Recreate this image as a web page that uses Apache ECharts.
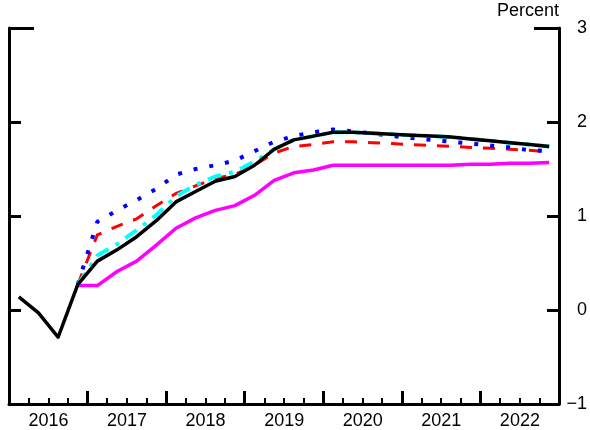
<!DOCTYPE html>
<html>
<head>
<meta charset="utf-8">
<script src="https://cdn.jsdelivr.net/npm/echarts@6/dist/echarts.min.js"></script>
<style>
html,body{margin:0;padding:0;background:#fff;}
#chart{width:590px;height:430px;}
</style>
</head>
<body>
<div id="chart"></div>
<script>
// Quarterly categories 2016Q1 - 2022Q4
const years = ['2016','2017','2018','2019','2020','2021','2022'];
const quarters = [];
years.forEach(y => { for (let q = 1; q <= 4; q++) quarters.push(y + 'Q' + q); });

const yTicks = [-1, 0, 1, 2, 3];

const blackLine = [0.14,-0.03,-0.29,0.27,0.52,0.64,0.78,0.95,1.15,1.26,1.37,1.42,1.54,1.71,1.81,1.85,1.89,1.89,1.88,1.87,1.86,1.85,1.84,1.82,1.80,1.78,1.76,1.74];
const magentaLine = [null,null,null,0.26,0.26,0.41,0.52,0.69,0.87,0.98,1.06,1.11,1.22,1.38,1.46,1.49,1.54,1.54,1.54,1.54,1.54,1.54,1.54,1.55,1.55,1.56,1.56,1.57];
const redLine = [null,null,null,0.27,0.80,0.89,0.97,1.11,1.24,1.32,1.40,1.44,1.54,1.67,1.74,1.76,1.79,1.79,1.78,1.77,1.76,1.75,1.74,1.73,1.72,1.71,1.70,1.68];
const blueLine = [null,null,null,0.27,0.94,1.06,1.17,1.29,1.44,1.50,1.54,1.59,1.69,1.79,1.85,1.89,1.92,1.90,1.88,1.85,1.83,1.81,1.79,1.77,1.75,1.73,1.70,1.69];
const cyanLine = [null,null,null,0.27,0.58,0.70,0.85,1.01,1.21,1.33,1.42,1.47,1.58,1.71,1.81,1.85,1.89,1.89,1.88,1.87,1.86,1.85,1.84,1.82,1.80,1.78,1.76,1.74];

const FONT = 'Liberation Sans, Arial, sans-serif';
const yMin = yTicks[0], yMax = yTicks[yTicks.length - 1];

const chart = echarts.init(document.getElementById('chart'), null, {renderer: 'canvas'});

function mkLine(name, data, color, width, type, z) {
  return {
    name: name, type: 'line', data: data, xAxisIndex: 0, yAxisIndex: 0,
    showSymbol: false, symbol: 'none', connectNulls: false, z: z,
    lineStyle: {color: color, width: width, type: type, cap: 'butt', join: 'round'},
    animation: false
  };
}

const yBase = {type: 'value', min: yMin, max: yMax, interval: 1, splitLine: {show: false}};

chart.setOption({
  animation: false,
  backgroundColor: '#fff',
  grid: {left: 9, right: 31, top: 28, bottom: 22, containLabel: false},
  xAxis: [
    {
      type: 'category', data: quarters, boundaryGap: true, position: 'bottom',
      axisLine: {show: true, onZero: false, lineStyle: {color: '#000', width: 3}},
      axisTick: {show: true, interval: 0, inside: true, length: 6, lineStyle: {color: '#000', width: 2}},
      axisLabel: {show: false},
      splitLine: {show: false}
    },
    {
      type: 'category', data: quarters, boundaryGap: true, position: 'bottom',
      axisLine: {show: false, onZero: false},
      axisTick: {show: true, interval: 3, inside: true, length: 13, lineStyle: {color: '#000', width: 3}},
      axisLabel: {
        show: true,
        interval: function (idx) { return idx % 4 === 1; },
        formatter: function (v) { return v.slice(0, 4); },
        padding: [0, 0, 0, 20],
        align: 'center',
        margin: 8,
        color: '#000', fontSize: 18, fontFamily: FONT
      },
      splitLine: {show: false}
    }
  ],
  yAxis: [
    Object.assign({}, yBase, {
      position: 'left',
      axisLine: {show: true, onZero: false, lineStyle: {color: '#000', width: 3}},
      axisTick: {show: true, inside: true, length: 12, lineStyle: {color: '#000', width: 3}},
      axisLabel: {show: false}
    }),
    Object.assign({}, yBase, {
      position: 'right',
      axisLine: {show: true, onZero: false, lineStyle: {color: '#000', width: 3}},
      axisTick: {show: true, inside: true, length: 12, lineStyle: {color: '#000', width: 3}},
      axisLabel: {
        show: true, align: 'right', margin: 28, color: '#000', fontSize: 18, fontFamily: FONT,
        formatter: function (v) { return v < 0 ? '\u2212' + Math.abs(v) : String(v); }
      },
      name: 'Percent', nameLocation: 'end', nameGap: 8,
      nameTextStyle: {color: '#000', fontSize: 18, fontFamily: FONT, align: 'right', verticalAlign: 'bottom'}
    }),
    Object.assign({}, yBase, {
      position: 'left', interval: 4,
      axisLine: {show: false, onZero: false},
      axisTick: {show: true, inside: true, length: 25, lineStyle: {color: '#000', width: 3}},
      axisLabel: {show: false}
    }),
    Object.assign({}, yBase, {
      position: 'right', interval: 4,
      axisLine: {show: false, onZero: false},
      axisTick: {show: true, inside: true, length: 25, lineStyle: {color: '#000', width: 3}},
      axisLabel: {show: false}
    })
  ],
  series: [
    mkLine('Magenta', magentaLine, '#ff00ff', 3.5, 'solid', 2),
    mkLine('Red', redLine, '#ff0000', 3, [12, 11], 3),
    mkLine('Blue', blueLine, '#0000ff', 4, [4, 12], 4),
    mkLine('Cyan', cyanLine, '#00ffff', 4, [14, 8, 4, 8], 5),
    mkLine('Black', blackLine, '#000000', 3.5, 'solid', 6)
  ]
});
</script>
</body>
</html>
